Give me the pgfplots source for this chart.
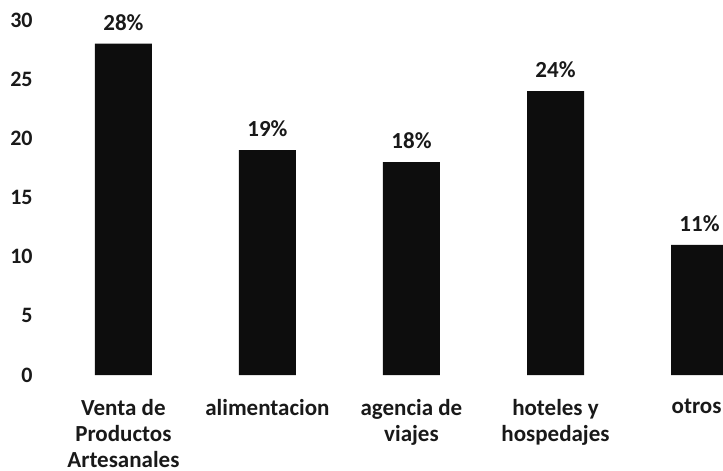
\documentclass[border=0pt]{standalone}
\usepackage{pgfplots}
\pgfplotsset{compat=1.18}
\usepackage{fontspec}
\setmainfont{Carlito}
\begin{document}
\begin{tikzpicture}
\useasboundingbox (-18.5pt,-48pt) rectangle (343pt,187.5pt);
\begin{axis}[
  at={(0,0)}, anchor=south west,
  scale only axis, width=343pt, height=177.5pt,
  xmin=-0.6, xmax=4.163, ymin=0, ymax=30,
  ytick={0,5,10,15,20,25,30},
  xtick={0,1,2,3,4},
  xticklabels={Venta de\\Productos\\Artesanales, alimentacion, agencia de\\viajes, hoteles y\\hospedajes, otros\rule{3pt}{0pt}},
  xticklabel style={align=center, anchor=north, inner sep=0pt, yshift=-12pt, text=black!90, font=\fontsize{11.5}{13}\selectfont\bfseries},
  yticklabel style={anchor=east, inner sep=0pt, xshift=-2pt, text=black!90, font=\fontsize{11}{12}\selectfont\bfseries},
  axis line style={draw=none},
  major tick length=0pt,
  /pgf/number format/assume math mode=true,
  ybar, bar width=28.5pt,
  clip=false,
  nodes near coords={\pgfmathprintnumber{\pgfplotspointmeta}\%},
  nodes near coords style={anchor=center, yshift=10.5pt, text=black!90, font=\fontsize{11.5}{12}\selectfont\bfseries},
]
\addplot[fill=black!95, draw=none] coordinates {(0,28) (1,19) (2,18) (3,24) (4,11)};
\end{axis}
\end{tikzpicture}
\end{document}
